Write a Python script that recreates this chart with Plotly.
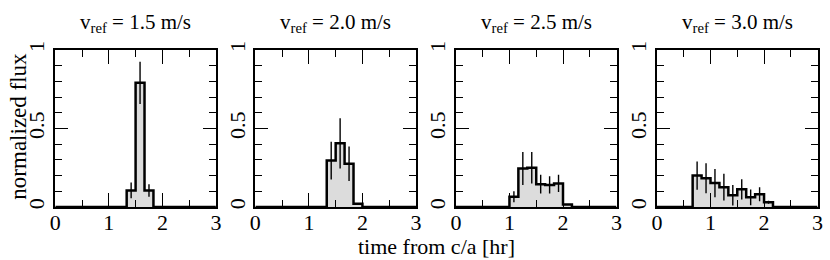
import plotly.graph_objects as go

# ---- data ----
bin_width = 1.0 / 6.0  # hr

titles = ["1.5", "2.0", "2.5", "3.0"]

p1_start = 1.3333
p1_values = [0.105, 0.79, 0.105]
p1_errors = [0.05, 0.135, 0.04]

p2_start = 1.3333
p2_values = [0.295, 0.405, 0.275, 0.02]
p2_errors = [0.12, 0.16, 0.11, 0.0]

p3_start = 1.0
p3_values = [0.065, 0.245, 0.25, 0.145, 0.14, 0.15, 0.015]
p3_errors = [0.035, 0.105, 0.10, 0.06, 0.055, 0.055, 0.0]

p4_start = 0.6667
p4_values = [0.20, 0.183, 0.152, 0.126, 0.075, 0.112, 0.061, 0.081, 0.03]
p4_errors = [0.09, 0.095, 0.09, 0.085, 0.065, 0.065, 0.05, 0.045, 0.01]

x_ticks = [0, 1, 2, 3]
y_ticks = [0, 0.5, 1]
y_ticklabels = ["0", "0.5", "1"]

panels = [
    (p1_start, p1_values, p1_errors),
    (p2_start, p2_values, p2_errors),
    (p3_start, p3_values, p3_errors),
    (p4_start, p4_values, p4_errors),
]

# ---- layout geometry (pixels) ----
W, H = 830, 260
x_px = [(50, 213), (253, 416), (456.5, 619.5), (660.5, 823.5)]
y_px = (42.7, 206.7)

FONT = "Liberation Serif, Times New Roman, serif"

fig = go.Figure()

for i, (start, vals, errs) in enumerate(panels):
    n = len(vals)
    edges = [start + k * bin_width for k in range(n + 1)]
    centers = [start + (k + 0.5) * bin_width for k in range(n)]
    xs = [0] + edges + [3]
    ys = [0] + vals + [0, 0]
    ax = "" if i == 0 else str(i + 1)
    fig.add_trace(go.Scatter(
        x=xs, y=ys, mode="lines", line=dict(shape="hv", color="black", width=2.5),
        fill="tozeroy", fillcolor="#dcdcdc",
        xaxis="x" + ax, yaxis="y" + ax, showlegend=False, hoverinfo="skip"))
    fig.add_trace(go.Scatter(
        x=centers, y=vals, mode="markers",
        marker=dict(size=1, color="rgba(0,0,0,0)"),
        error_y=dict(type="data", array=errs, visible=True, color="black",
                     thickness=1.4, width=0),
        xaxis="x" + ax, yaxis="y" + ax, showlegend=False, hoverinfo="skip"))

    dom_x = [x_px[i][0] / W, x_px[i][1] / W]
    dom_y = [1 - y_px[1] / H, 1 - y_px[0] / H]
    xa = dict(
        domain=dom_x, range=[0, 3], anchor="y" + ax,
        showline=True, linewidth=2, linecolor="black", mirror="ticks",
        ticks="inside", ticklen=14, tickwidth=1.2, tickcolor="black",
        tickvals=x_ticks, ticktext=[str(v) for v in x_ticks],
        ticklabelstandoff=-5,
        minor=dict(dtick=0.5, tick0=0, ticks="inside", ticklen=7, tickwidth=1.2,
                   tickcolor="black", showgrid=False),
        showgrid=False, zeroline=False,
        tickfont=dict(family=FONT, size=22, color="black"),
    )
    ya = dict(
        domain=dom_y, range=[0, 1], anchor="x" + ax,
        showline=True, linewidth=2, linecolor="black", mirror="ticks",
        ticks="inside", ticklen=13, tickwidth=1.2, tickcolor="black",
        tickvals=y_ticks, ticktext=y_ticklabels, tickangle=-90,
        minor=dict(dtick=0.1, tick0=0, ticks="inside", ticklen=7, tickwidth=1.2,
                   tickcolor="black", showgrid=False),
        showgrid=False, zeroline=False,
        tickfont=dict(family=FONT, size=22, color="black"),
    )
    fig.layout["xaxis" + ax] = xa
    fig.layout["yaxis" + ax] = ya

    fig.add_annotation(
        x=(x_px[i][0] + x_px[i][1]) / 2 / W, y=1 - 15 / H, xref="paper", yref="paper",
        text="v<sub>ref</sub> = " + titles[i] + " m/s", showarrow=False,
        font=dict(family=FONT, size=21, color="black"), xanchor="center", yanchor="middle")

fig.add_annotation(
    x=437 / W, y=1 - 248 / H, xref="paper", yref="paper", text="time from c/a [hr]",
    showarrow=False, font=dict(family=FONT, size=22, color="black"),
    xanchor="center", yanchor="middle")
fig.add_annotation(
    x=13 / W, y=1 - 122 / H, xref="paper", yref="paper", text="normalized flux",
    textangle=-90, showarrow=False, font=dict(family=FONT, size=23, color="black"),
    xanchor="center", yanchor="middle")

fig.update_layout(
    width=W, height=H, margin=dict(l=0, r=0, t=0, b=0),
    paper_bgcolor="white", plot_bgcolor="white",
    font=dict(family=FONT, color="black"),
)

fig.write_html("out.html", config={"displayModeBar": False},
               post_script="document.body.style.margin='0';document.body.style.overflow='hidden';")
